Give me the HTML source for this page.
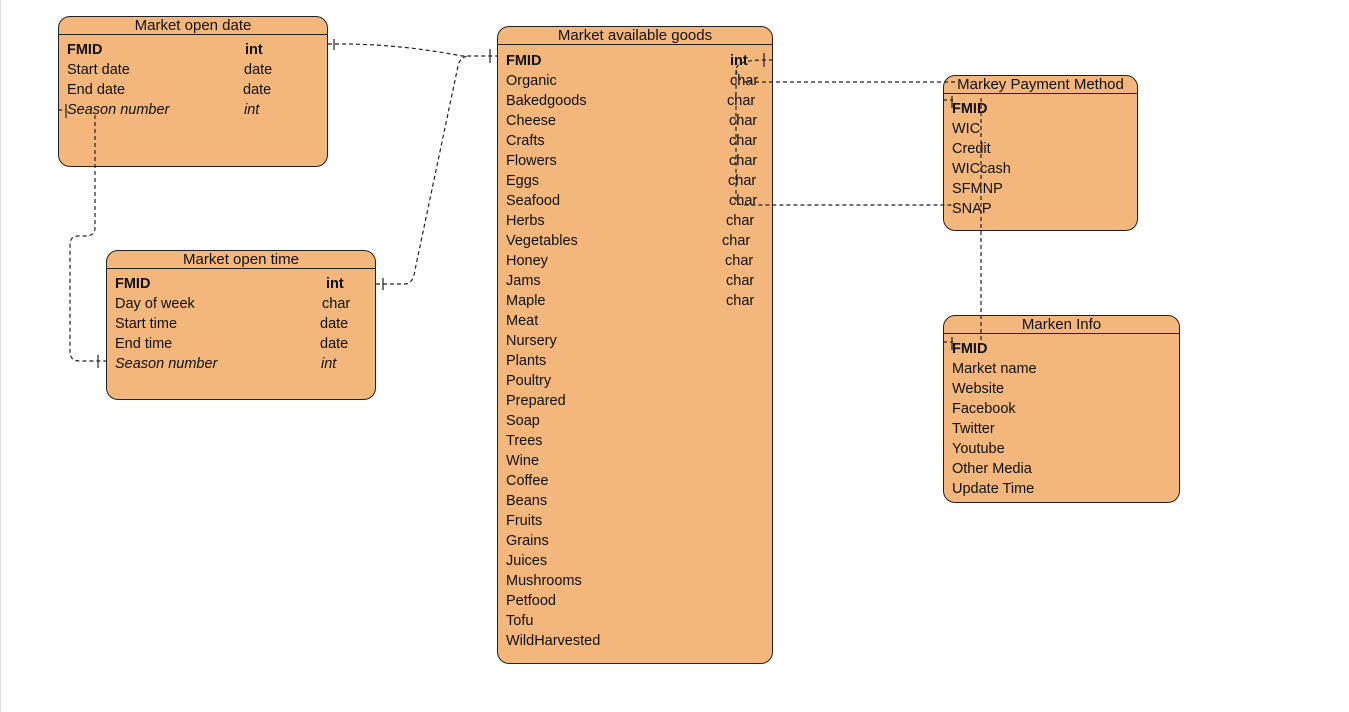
<!DOCTYPE html>
<html><head><meta charset="utf-8"><style>
body{margin:0;width:1349px;height:712px;background:#fff;position:relative;overflow:hidden;font-family:"Liberation Sans",Arial,sans-serif;font-size:14.5px;color:#111}
.box{position:absolute;background:#f3b77b;border:1.3px solid #222;border-radius:12px;box-sizing:border-box}
.hd{position:absolute;left:0;right:0;top:0;text-align:center;font-size:15px;line-height:17px;border-bottom:1.3px solid #222}
.r{position:absolute;white-space:nowrap;line-height:20px}
.b{font-weight:bold}.i{font-style:italic}
svg{position:absolute;left:0;top:0}
</style></head><body>
<div style="position:absolute;left:0;top:0;width:1px;height:712px;background:#ddd"></div>

<div class="box" style="left:58px;top:16px;width:270px;height:151px">
<div class="hd">Market open date</div>
<div class="r b" style="left:8px;top:23px">FMID</div><div class="r b" style="left:186px;top:23px">int</div>
<div class="r" style="left:8px;top:43px">Start date</div><div class="r" style="left:185px;top:43px">date</div>
<div class="r" style="left:8px;top:63px">End date</div><div class="r" style="left:184px;top:63px">date</div>
<div class="r i" style="left:8px;top:83px">Season number</div><div class="r i" style="left:185px;top:83px">int</div>
</div>

<div class="box" style="left:106px;top:250px;width:270px;height:150px">
<div class="hd">Market open time</div>
<div class="r b" style="left:8px;top:23px">FMID</div><div class="r b" style="left:219px;top:23px">int</div>
<div class="r" style="left:8px;top:43px">Day of week</div><div class="r" style="left:215px;top:43px">char</div>
<div class="r" style="left:8px;top:63px">Start time</div><div class="r" style="left:213px;top:63px">date</div>
<div class="r" style="left:8px;top:83px">End time</div><div class="r" style="left:213px;top:83px">date</div>
<div class="r i" style="left:8px;top:103px">Season number</div><div class="r i" style="left:214px;top:103px">int</div>
</div>

<div class="box" style="left:497px;top:26px;width:276px;height:638px">
<div class="hd">Market available goods</div>
<div class="r b" style="left:8px;top:24px">FMID</div><div class="r b" style="left:232px;top:24px">int</div>
<div class="r" style="left:8px;top:44px">Organic<br>Bakedgoods<br>Cheese<br>Crafts<br>Flowers<br>Eggs<br>Seafood<br>Herbs<br>Vegetables<br>Honey<br>Jams<br>Maple<br>Meat<br>Nursery<br>Plants<br>Poultry<br>Prepared<br>Soap<br>Trees<br>Wine<br>Coffee<br>Beans<br>Fruits<br>Grains<br>Juices<br>Mushrooms<br>Petfood<br>Tofu<br>WildHarvested</div>
<div class="r" style="left:232px;top:44px">char</div>
<div class="r" style="left:229px;top:64px">char</div>
<div class="r" style="left:231px;top:84px">char</div>
<div class="r" style="left:231px;top:104px">char</div>
<div class="r" style="left:231px;top:124px">char</div>
<div class="r" style="left:230px;top:144px">char</div>
<div class="r" style="left:231px;top:164px">char</div>
<div class="r" style="left:228px;top:184px">char</div>
<div class="r" style="left:224px;top:204px">char</div>
<div class="r" style="left:227px;top:224px">char</div>
<div class="r" style="left:228px;top:244px">char</div>
<div class="r" style="left:228px;top:264px">char</div>
</div>

<div class="box" style="left:943px;top:75px;width:195px;height:156px">
<div class="hd">Markey Payment Method</div>
<div class="r b" style="left:8px;top:23px">FMID</div>
<div class="r" style="left:8px;top:43px">WIC<br>Credit<br>WICcash<br>SFMNP<br>SNAP</div>
</div>

<div class="box" style="left:943px;top:315px;width:237px;height:188px">
<div class="hd">Marken Info</div>
<div class="r b" style="left:8px;top:23px">FMID</div>
<div class="r" style="left:8px;top:43px">Market name<br>Website<br>Facebook<br>Twitter<br>Youtube<br>Other Media<br>Update Time</div>
</div>

<svg width="1349" height="712" fill="none" stroke="#222" stroke-width="1.2">
<g stroke-dasharray="4 3">
<path d="M328 44 H340 Q400 44 462 56 H497"/>
<path d="M376 284 H405 Q413 284 415 270 L458 66 Q460 56 470 56"/>
<path d="M58 110 H66 M95 115 V228 Q95 236 85 236 H78 Q70 236 70 245 V352 Q70 361 80 361 H107"/>
<path d="M773 60 H765 Q736 60 736 70 V200 Q736 205 745 205 H955"/>
<path d="M748 82 H955 M736 70 Q738 82 748 82"/>
<path d="M943 100 H953 M981 98 V345 M943 342 H953"/>
</g>
<path d="M334 39 V50 M490 49 V63 M383 278 V290 M66 104 V118 M98 355 V368 M764 53 V67 M952 96 V108 M952 337 V350"/>
</svg>
</body></html>
